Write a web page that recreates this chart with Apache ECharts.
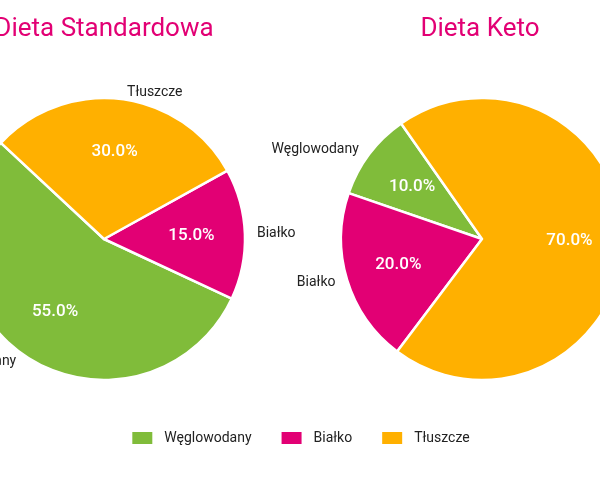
<!DOCTYPE html>
<html>
<head>
<meta charset="utf-8">
<script src="https://cdn.jsdelivr.net/npm/echarts@6/dist/echarts.min.js"></script>
<style>
  html, body { margin: 0; padding: 0; background: #ffffff; }
  #chart { width: 600px; height: 480px; }
</style>
</head>
<body>
<div id="chart"></div>
<script>
// dane
var categories = ["Węglowodany", "Białko", "Tłuszcze"];
var titles = ["Dieta Standardowa", "Dieta Keto"];
var standardValues = [55, 15, 30];
var ketoValues = [10, 20, 70];
var colors = ["#80bc3a", "#e20074", "#ffb000"];

var R = 141;

function toData(values) {
  return categories.map(function (name, i) {
    return { name: name, value: values[i] };
  });
}

// kolorowy wykres z etykietami nazw na zewnątrz
function piePart(values, center, startAngle) {
  return {
    type: "pie",
    center: center,
    radius: R,
    startAngle: startAngle,
    clockwise: false,
    silent: true,
    avoidLabelOverlap: false,
    itemStyle: { borderColor: "#ffffff", borderWidth: 2.5 },
    label: {
      show: true,
      position: "outside",
      formatter: "{b}",
      color: "#222222",
      fontSize: 14,
      fontFamily: "Roboto",
      width: 120,
      overflow: "none",
    },
    labelLine: { show: false, length: 7, length2: 0 },
    data: toData(values),
  };
}

// przezroczysty pierścień tylko dla etykiet procentowych
function pctPart(values, center, startAngle) {
  return {
    type: "pie",
    center: center,
    radius: [28, R],
    startAngle: startAngle,
    clockwise: false,
    silent: true,
    itemStyle: { color: "rgba(0,0,0,0)" },
    label: {
      show: true,
      position: "inside",
      formatter: function (p) {
        return p.percent.toFixed(1) + "%";
      },
      color: "#ffffff",
      fontSize: 17,
      fontWeight: 500,
      fontFamily: "Roboto",
    },
    labelLine: { show: false },
    data: toData(values),
  };
}

var chart = echarts.init(document.getElementById("chart"));
chart.setOption({
  animation: false,
  color: colors,
  title: [
    {
      text: titles[0],
      left: 99,
      top: 11,
      textAlign: "center",
      textStyle: { color: "#e20074", fontSize: 26, fontWeight: "normal", fontFamily: "Roboto" },
    },
    {
      text: titles[1],
      left: 475,
      top: 11,
      textAlign: "center",
      textStyle: { color: "#e20074", fontSize: 26, fontWeight: "normal", fontFamily: "Roboto" },
    },
  ],
  legend: {
    data: categories,
    bottom: 29,
    left: "center",
    itemWidth: 22,
    itemHeight: 14,
    itemGap: 28,
    icon: "rect",
    selectedMode: false,
    textStyle: { color: "#222222", fontSize: 14, fontFamily: "Roboto", padding: [0, 0, 0, 6] },
  },
  series: [
    piePart(standardValues, [104, 239], 137),
    piePart(ketoValues, [482, 239], 125),
    pctPart(standardValues, [104, 239], 137),
    pctPart(ketoValues, [482, 239], 125),
  ],
});
</script>
</body>
</html>
